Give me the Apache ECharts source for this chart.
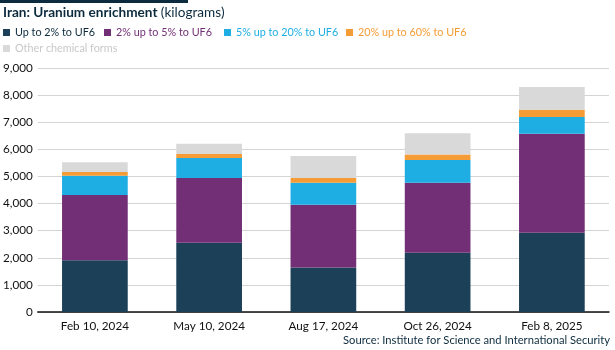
<!DOCTYPE html>
<html>
<head>
<meta charset="utf-8">
<script src="https://cdn.jsdelivr.net/npm/echarts@6/dist/echarts.min.js"></script>
<style>
html,body{margin:0;padding:0;background:#fff;}
#main{width:615px;height:350px;}
</style>
</head>
<body>
<div id="main"></div>
<script>
// data (kg)
var dates = ['Feb 10, 2024', 'May 10, 2024', 'Aug 17, 2024', 'Oct 26, 2024', 'Feb 8, 2025'];
var upTo2 = [1912, 2552, 1642, 2182, 2922];
var from2to5 = [2404, 2393, 2316, 2590, 3650];
var from5to20 = [714, 739, 814, 838, 618];
var from20to60 = [136, 148, 173, 196, 270];
var otherForms = [359, 370, 813, 791, 839];
var yTicks = [0, 1000, 2000, 3000, 4000, 5000, 6000, 7000, 8000, 9000];

var names = ['Up to 2% to UF6', '2% up to 5% to UF6', '5% up to 20% to UF6', '20% up to 60% to UF6', 'Other chemical forms'];
var colors = ['#1c4058', '#722f76', '#1eaee3', '#f59c36', '#d9d9d9'];
var textColors = ['#0d2b3e', '#722f76', '#1eaee3', '#f59c36', '#c8c8c8'];
var values = [upTo2, from2to5, from5to20, from20to60, otherForms];

var FONT = 'Lato';

var myChart = echarts.init(document.getElementById('main'));

// one legend per item so each sits where the original does
var legendPos = [[3, 27], [104, 27], [224, 27], [346, 27], [3, 43]];
var legends = names.map(function (n, i) {
    return {
        left: legendPos[i][0],
        top: legendPos[i][1],
        padding: 0,
        icon: 'rect',
        itemWidth: 7,
        itemHeight: 7,
        itemGap: 0,
        selectedMode: false,
        data: [{name: n, textStyle: {color: textColors[i]}}],
        textStyle: {fontFamily: FONT, fontSize: 10.8}
    };
});

myChart.setOption({
    animation: false,
    graphic: [
        {type: 'rect', left: 0, top: 0, shape: {width: 188, height: 3}, style: {fill: '#0d2b3e'}},
        {
            type: 'text', left: 3, top: 6,
            style: {
                text: '{b|Iran: Uranium enrichment} {n|(kilograms)}',
                rich: {
                    b: {fontFamily: FONT, fontSize: 13.6, fontWeight: 'bold', fill: '#0d2b3e'},
                    n: {fontFamily: FONT, fontSize: 13.6, fill: '#0d2b3e'}
                }
            }
        },
        {
            type: 'text', right: 5, top: 335,
            style: {text: 'Source: Institute for Science and International Security', fontFamily: FONT, fontSize: 11.2, fill: '#0d2b3e'}
        }
    ],
    legend: legends,
    grid: {left: 36, right: 6, top: 68, bottom: 38, containLabel: false},
    xAxis: {
        type: 'category',
        data: dates,
        axisTick: {show: false},
        axisLine: {lineStyle: {color: '#111', width: 1.5}},
        axisLabel: {fontFamily: FONT, fontSize: 11.7, color: '#111', margin: 8}
    },
    yAxis: {
        type: 'value',
        min: yTicks[0],
        max: yTicks[yTicks.length - 1],
        interval: 1000,
        axisLine: {show: false},
        axisTick: {show: false},
        splitLine: {lineStyle: {color: '#d4d4d4', width: 1.2}},
        axisLabel: {
            fontFamily: FONT, fontSize: 11.7, color: '#111', margin: 5,
            formatter: function (v) { return v.toLocaleString('en-US'); }
        }
    },
    series: values.map(function (arr, i) {
        return {
            name: names[i],
            type: 'bar',
            stack: 'total',
            barWidth: '57.5%',
            itemStyle: {color: colors[i]},
            data: arr
        };
    })
});
</script>
</body>
</html>
